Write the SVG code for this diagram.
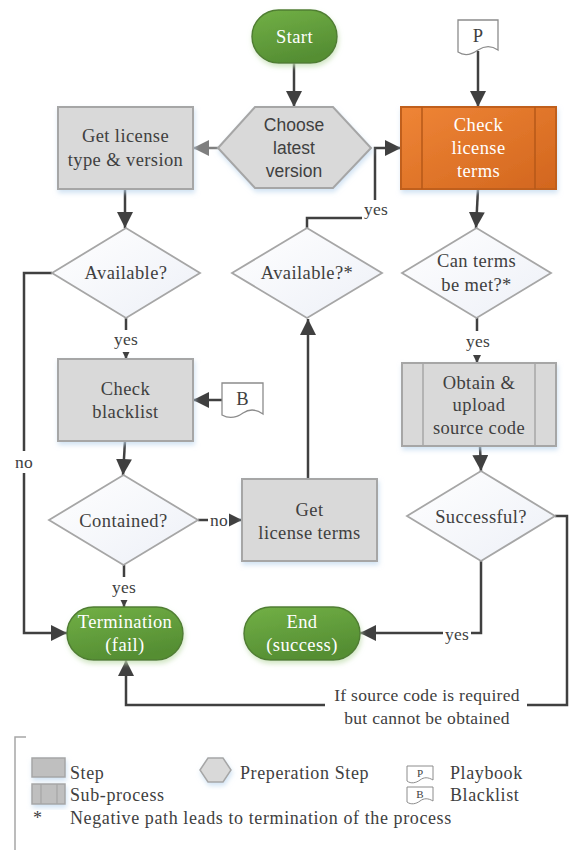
<svg xmlns="http://www.w3.org/2000/svg" width="570" height="850" viewBox="0 0 570 850">
  <defs>
    <linearGradient id="gradGreen" x1="0" y1="0" x2="0.4" y2="1">
      <stop offset="0" stop-color="#72B046"/>
      <stop offset="1" stop-color="#558E33"/>
    </linearGradient>
    <linearGradient id="gradOrange" x1="0" y1="0" x2="1" y2="1">
      <stop offset="0" stop-color="#EF8536"/>
      <stop offset="1" stop-color="#D2661E"/>
    </linearGradient>
    <linearGradient id="gradDiamond" x1="0" y1="0" x2="1" y2="1">
      <stop offset="0" stop-color="#FFFFFF"/>
      <stop offset="1" stop-color="#EDF0F7"/>
    </linearGradient>
    <filter id="glowBlue" x="-20%" y="-20%" width="140%" height="150%">
      <feDropShadow dx="1" dy="3" stdDeviation="2.5" flood-color="#BDD7EE" flood-opacity="0.7"/>
    </filter>
    <filter id="glowGreen" x="-20%" y="-20%" width="140%" height="150%">
      <feDropShadow dx="1" dy="3" stdDeviation="2.5" flood-color="#C5E0B4" flood-opacity="0.8"/>
    </filter>
    <marker id="arrow" markerUnits="userSpaceOnUse" markerWidth="16" markerHeight="16" refX="16" refY="8" orient="auto">
      <path d="M0,0 L16,8 L0,16 Z" fill="#404040"/>
    </marker>
    <marker id="arrowGray" markerUnits="userSpaceOnUse" markerWidth="16" markerHeight="16" refX="16" refY="8" orient="auto">
      <path d="M0,0 L16,8 L0,16 Z" fill="#7F7F7F"/>
    </marker>
    <style>
      .conn { fill: none; stroke: #404040; stroke-width: 2.5; marker-end: url(#arrow); }
      .connGray { fill: none; stroke: #7F7F7F; stroke-width: 2.5; marker-end: url(#arrowGray); }
      .step { fill: #D9D9D9; stroke: #A6A6A6; stroke-width: 2; filter: url(#glowBlue); }
      .prep { fill: #D9D9D9; stroke: #A6A6A6; stroke-width: 2; filter: url(#glowBlue); }
      .dec { fill: url(#gradDiamond); stroke: #A6A6A6; stroke-width: 1.8; }
      .term { fill: url(#gradGreen); stroke: #507E32; stroke-width: 1.5; filter: url(#glowGreen); }
      .doc { fill: #FFFFFF; stroke: #8C8C8C; stroke-width: 1.3; }
      .sub { fill: url(#gradOrange); stroke: #C05F1A; stroke-width: 2; filter: url(#glowBlue); }
      .subline { stroke: #B65818; stroke-width: 1.5; }
      .grayline { stroke: #A6A6A6; stroke-width: 1.5; }
      text { font-family: "Liberation Serif", "Times New Roman", serif; }
      .t { font-size: 18.5px; letter-spacing: 0.4px; fill: #404040; text-anchor: middle; }
      .tw { font-size: 18.5px; letter-spacing: 0.4px; fill: #FFFFFF; text-anchor: middle; }
      text.ts { font-family: "Liberation Sans", Arial, sans-serif; font-size: 17.5px; fill: #404040; text-anchor: middle; }
      .lbl { font-size: 17.5px; letter-spacing: 0.3px; fill: #404040; text-anchor: middle; }
      .leg { font-size: 18px; letter-spacing: 0.6px; fill: #404040; }
      .small { font-size: 11px; fill: #404040; text-anchor: middle; }
      .bg { fill: #FFFFFF; }
    </style>
  </defs>

  <rect width="570" height="850" fill="#FFFFFF"/>

  <!-- connectors -->
  <g id="connectors">
    <path class="conn" d="M294,63 V107"/>
    <path class="connGray" d="M218,148 H193"/>
    <path class="conn" d="M478,51 V107"/>
    <path class="conn" d="M125,189 V228"/>
    <path class="conn" d="M52,273 H24 V633 H67"/>
    <path class="conn" d="M126,318 V359"/>
    <path class="conn" d="M222,400 H193"/>
    <path class="conn" d="M125,441 L123,475"/>
    <path class="conn" d="M198,520 H242"/>
    <path class="conn" d="M124,565 V607"/>
    <path class="conn" d="M308,479 V319"/>
    <path class="conn" d="M307,228 V218 H375 V148 H401"/>
    <path class="conn" d="M478,189 L476,228"/>
    <path class="conn" d="M477,318 V363"/>
    <path class="conn" d="M480,446 L481,471"/>
    <path class="conn" d="M481,561 V633 H360"/>
    <path class="conn" d="M555,516 H567 V705 H126 V660"/>

    <!-- connector labels -->
    <rect class="bg" x="112" y="330" width="28" height="22"/>
    <text class="lbl" x="126" y="345">yes</text>
    <rect class="bg" x="12" y="451" width="24" height="22"/>
    <text class="lbl" x="24" y="468">no</text>
    <rect class="bg" x="208" y="510" width="21" height="20"/>
    <text class="lbl" x="219" y="526">no</text>
    <rect class="bg" x="110" y="577" width="28" height="23"/>
    <text class="lbl" x="124" y="593">yes</text>
    <rect class="bg" x="362" y="200" width="28" height="20"/>
    <text class="lbl" x="376" y="215">yes</text>
    <rect class="bg" x="464" y="331" width="28" height="24"/>
    <text class="lbl" x="478" y="347">yes</text>
    <rect class="bg" x="443" y="625" width="28" height="20"/>
    <text class="lbl" x="457" y="640">yes</text>
    <rect class="bg" x="325" y="682" width="202" height="26"/>
    <text class="lbl" x="427" y="701">If source code is required</text>
    <text class="lbl" x="427" y="724">but cannot be obtained</text>
  </g>

  <!-- nodes -->
  <g id="start">
    <rect class="term" x="252" y="10" width="85" height="53" rx="26.5" ry="26.5"/>
    <text class="tw" x="294.5" y="43">Start</text>
  </g>

  <g id="choose-version">
    <polygon class="prep" points="218,148 255,107 333,107 371,148 333,188 255,188"/>
    <text class="ts" x="294" y="131">Choose</text>
    <text class="ts" x="294" y="154">latest</text>
    <text class="ts" x="294" y="177">version</text>
  </g>

  <g id="playbook">
    <path class="doc" d="M458,20 H498 V50 C491,45 484,46 478,50 C471,55 464,56 458,52 Z"/>
    <text class="t" x="478" y="42">P</text>
  </g>

  <g id="check-terms">
    <rect class="sub" x="401" y="107" width="155" height="82"/>
    <line class="subline" x1="422" y1="107" x2="422" y2="189"/>
    <line class="subline" x1="535" y1="107" x2="535" y2="189"/>
    <text class="tw" x="478.5" y="131">Check</text>
    <text class="tw" x="478.5" y="154">license</text>
    <text class="tw" x="478.5" y="177">terms</text>
  </g>

  <g id="get-type-version">
    <rect class="step" x="58" y="107" width="135" height="82"/>
    <text class="t" x="125.5" y="142">Get license</text>
    <text class="t" x="125.5" y="166">type &amp; version</text>
  </g>

  <g id="available-1">
    <polygon class="dec" points="52,273 126,228 200,273 126,318"/>
    <text class="t" x="126" y="279">Available?</text>
  </g>

  <g id="available-2">
    <polygon class="dec" points="232,273 307,228 382,273 307,318"/>
    <text class="t" x="307" y="279">Available?*</text>
  </g>

  <g id="can-terms-be-met">
    <polygon class="dec" points="402,273 476.5,228 551,273 476.5,318"/>
    <text class="t" x="476.5" y="267">Can terms</text>
    <text class="t" x="476.5" y="291">be met?*</text>
  </g>

  <g id="check-blacklist">
    <rect class="step" x="58" y="359" width="135" height="82"/>
    <text class="t" x="125.5" y="395">Check</text>
    <text class="t" x="125.5" y="418">blacklist</text>
  </g>

  <g id="blacklist">
    <path class="doc" d="M222,383 H263 V414 C256,409 249,409 243,413 C236,418 229,419 222,415 Z"/>
    <text class="t" x="242.5" y="405">B</text>
  </g>

  <g id="obtain-source">
    <rect class="step" x="402" y="363" width="154" height="83"/>
    <line class="grayline" x1="423" y1="363" x2="423" y2="446"/>
    <line class="grayline" x1="535" y1="363" x2="535" y2="446"/>
    <text class="t" x="479" y="389">Obtain &amp;</text>
    <text class="t" x="479" y="411">upload</text>
    <text class="t" x="479" y="434">source code</text>
  </g>

  <g id="contained">
    <polygon class="dec" points="49,520 123.5,475 198,520 123.5,565"/>
    <text class="t" x="123.5" y="527">Contained?</text>
  </g>

  <g id="get-license-terms">
    <rect class="step" x="242" y="479" width="135" height="82"/>
    <text class="t" x="309.5" y="516">Get</text>
    <text class="t" x="309.5" y="539">license terms</text>
  </g>

  <g id="successful">
    <polygon class="dec" points="407,516 481,471 555,516 481,561"/>
    <text class="t" x="481" y="523">Successful?</text>
  </g>

  <g id="termination">
    <rect class="term" x="67" y="607" width="116" height="53" rx="26.5" ry="26.5"/>
    <text class="tw" x="125" y="628">Termination</text>
    <text class="tw" x="125" y="651">(fail)</text>
  </g>

  <g id="end">
    <rect class="term" x="244" y="607" width="116" height="53" rx="26.5" ry="26.5"/>
    <text class="tw" x="302" y="628">End</text>
    <text class="tw" x="302" y="651">(success)</text>
  </g>

  <!-- legend -->
  <g id="legend">
    <path d="M26,737 H15 V850" fill="none" stroke="#A6A6A6" stroke-width="1.5"/>
    <rect x="32" y="758" width="33" height="19" fill="#BFBFBF" stroke="#A6A6A6" stroke-width="1.5" filter="url(#glowBlue)"/>
    <text class="leg" x="70" y="779">Step</text>
    <rect x="32" y="784" width="33" height="20" fill="#BFBFBF" stroke="#A6A6A6" stroke-width="1.5" filter="url(#glowBlue)"/>
    <line x1="41" y1="784" x2="41" y2="804" stroke="#A6A6A6" stroke-width="1.2"/>
    <line x1="57" y1="784" x2="57" y2="804" stroke="#A6A6A6" stroke-width="1.2"/>
    <text class="leg" x="70" y="801">Sub-process</text>
    <text class="leg" x="33" y="824">*</text>
    <text class="leg" x="70" y="824">Negative path leads to termination of the process</text>

    <polygon points="200,770 208,758 223,758 231,770 223,782 208,782" fill="#D9D9D9" stroke="#A6A6A6" stroke-width="1.5" filter="url(#glowBlue)"/>
    <text class="leg" x="240" y="779">Preperation Step</text>

    <path d="M407,766 H433 V780 C428,777 424,777 420,780 C416,783 411,784 407,781 Z" fill="#FFFFFF" stroke="#8C8C8C" stroke-width="1"/>
    <text class="small" x="420" y="777">P</text>
    <text class="leg" x="450" y="779">Playbook</text>

    <path d="M407,787 H433 V801 C428,798 424,798 420,801 C416,804 411,805 407,802 Z" fill="#FFFFFF" stroke="#8C8C8C" stroke-width="1"/>
    <text class="small" x="420" y="798">B</text>
    <text class="leg" x="450" y="801">Blacklist</text>
  </g>
</svg>
